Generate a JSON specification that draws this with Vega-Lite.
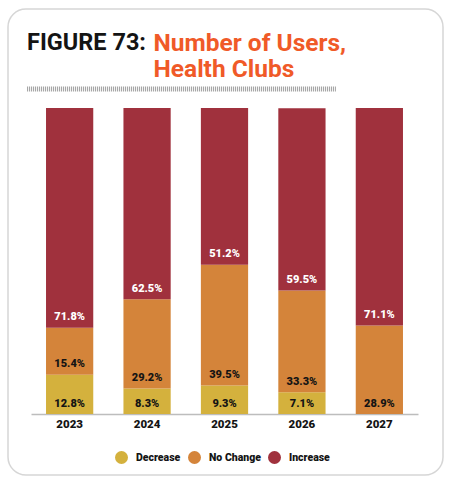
{
  "$schema": "https://vega.github.io/schema/vega-lite/v6.json",
  "width": 450,
  "height": 485,
  "autosize": {"type": "fit", "contains": "padding"},
  "padding": {"left": 8, "top": 9, "right": 7, "bottom": 10},
  "background": "white",
  "config": {
    "view": {"stroke": "#d6d6d6", "strokeWidth": 1.5, "cornerRadius": 18}
  },
  "title": {
    "text": "FIGURE 73:",
    "anchor": "start",
    "frame": "group",
    "dx": 19,
    "offset": -45,
    "font": "Roboto",
    "fontSize": 23.5,
    "fontWeight": "bold",
    "color": "#141414"
  },
  "datasets": {
    "shares": [
      {"year": "2023", "series": "Decrease", "value": 0.128},
      {"year": "2023", "series": "No Change", "value": 0.154},
      {"year": "2023", "series": "Increase", "value": 0.718},
      {"year": "2024", "series": "Decrease", "value": 0.083},
      {"year": "2024", "series": "No Change", "value": 0.292},
      {"year": "2024", "series": "Increase", "value": 0.625},
      {"year": "2025", "series": "Decrease", "value": 0.093},
      {"year": "2025", "series": "No Change", "value": 0.395},
      {"year": "2025", "series": "Increase", "value": 0.512},
      {"year": "2026", "series": "Decrease", "value": 0.071},
      {"year": "2026", "series": "No Change", "value": 0.333},
      {"year": "2026", "series": "Increase", "value": 0.595},
      {"year": "2027", "series": "No Change", "value": 0.289},
      {"year": "2027", "series": "Increase", "value": 0.711}
    ],
    "divider": [{"part": "title rule"}]
  },
  "layer": [
    {
      "data": {"name": "shares"},
      "transform": [
        {"calculate": "indexof(['Decrease', 'No Change', 'Increase'], datum.series)", "as": "rank"},
        {"stack": "value", "groupby": ["year"], "sort": [{"field": "rank", "order": "ascending"}], "as": ["v0", "v1"]}
      ],
      "encoding": {
        "x": {
          "field": "year",
          "type": "ordinal",
          "scale": {"range": [23, 410], "paddingInner": 0.39, "paddingOuter": 0.194},
          "axis": {
            "title": null,
            "offset": -61,
            "domainColor": "#bdbdbd",
            "domainWidth": 1.5,
            "ticks": false,
            "labelAngle": 0,
            "labelFont": "Roboto",
            "labelFontWeight": 900,
            "labelFontSize": 11.5,
            "labelColor": "#141414",
            "labelPadding": 4
          }
        }
      },
      "layer": [
        {
          "mark": {"type": "bar"},
          "encoding": {
            "y": {
              "field": "v0",
              "type": "quantitative",
              "scale": {"domain": [-0.1993, 1.3235], "nice": false, "zero": false},
              "axis": {
                "title": ["Number of Users,", "Health Clubs"],
                "titleAngle": 0,
                "titleX": 145,
                "titleY": 41,
                "titleAlign": "left",
                "titleBaseline": "alphabetic",
                "titleColor": "#f05a28",
                "titleFont": "Roboto",
                "titleFontSize": 24.5,
                "titleFontWeight": "bold",
                "titleLineHeight": 26,
                "domain": false,
                "ticks": false,
                "labels": false,
                "grid": false
              }
            },
            "y2": {"field": "v1"},
            "color": {
              "field": "series",
              "type": "nominal",
              "scale": {
                "domain": ["Decrease", "No Change", "Increase"],
                "range": ["#d4b13d", "#d4843a", "#a0313d"]
              },
              "legend": {
                "title": null,
                "orient": "none",
                "legendX": 107,
                "legendY": 442,
                "direction": "horizontal",
                "symbolType": "circle",
                "symbolSize": 169,
                "symbolStrokeWidth": 0,
                "labelFont": "Roboto",
                "labelFontWeight": 900,
                "labelFontSize": 10.5,
                "labelColor": "#141414",
                "labelOffset": 8,
                "columnPadding": 7,
                "padding": 0
              }
            }
          }
        },
        {
          "mark": {"type": "text", "font": "Roboto", "fontWeight": 900, "fontSize": 11, "baseline": "middle", "dy": -10.5},
          "encoding": {
            "y": {"field": "v0", "type": "quantitative"},
            "text": {"field": "value", "type": "quantitative", "format": ".1%"},
            "color": {
              "condition": {"test": "datum.series === 'Increase'", "value": "#ffffff"},
              "value": "#141414"
            }
          }
        }
      ]
    },
    {
      "data": {"name": "divider"},
      "mark": {"type": "rule", "strokeDash": [1, 1], "strokeWidth": 5, "color": "#9a9a9a"},
      "encoding": {
        "x": {"datum": "2023", "bandPosition": -0.4},
        "x2": {"datum": "2026", "bandPosition": 1.22},
        "y": {"datum": 1.062}
      }
    }
  ]
}
